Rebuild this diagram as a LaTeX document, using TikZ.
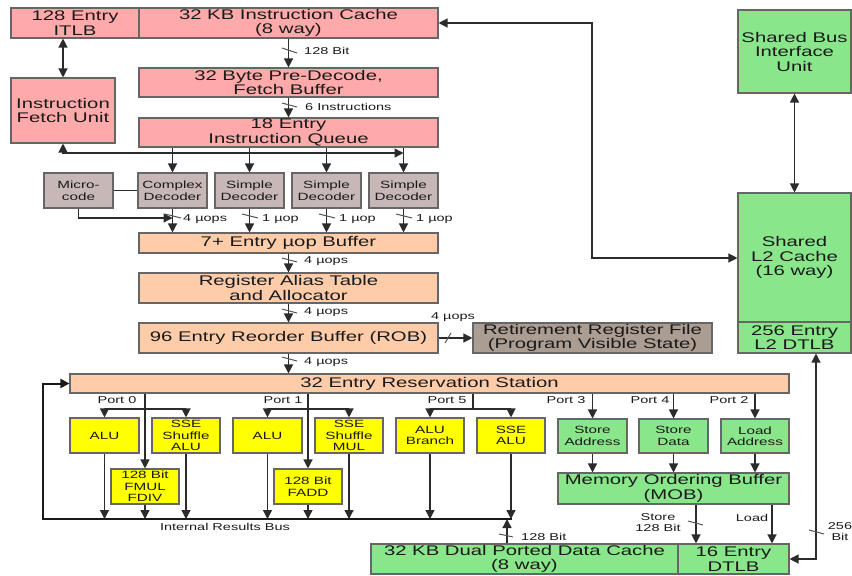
\documentclass[tikz,border=0pt]{standalone}
\usepackage{fontspec}
\setmainfont{Liberation Sans}[FakeStretch=1.45]
\usetikzlibrary{arrows.meta,calc}
\definecolor{cpink}{HTML}{FFAAAA}
\definecolor{cdec}{HTML}{C8B7B7}
\definecolor{corange}{HTML}{FFCCAA}
\definecolor{crrf}{HTML}{AC9D93}
\definecolor{cgreen}{HTML}{8AE68A}
\definecolor{cyellow}{HTML}{FFFF00}
\definecolor{cborder}{HTML}{666666}
\definecolor{cline}{HTML}{2B2B2B}
\definecolor{ctext}{HTML}{1A1A1A}
\begin{document}
\begin{tikzpicture}[x=1pt,y=-1pt,
  box/.style={draw=cborder, line width=1.1pt, inner sep=0pt, align=center, text=ctext,
              font=\fontsize{14}{14.5}\selectfont},
  smallbox/.style={box, font=\fontsize{10.5}{11.5}\selectfont},
  bx/.style n args={2}{minimum width=#1pt, minimum height=#2pt},
  lbl/.style={inner sep=0pt, text=ctext, font=\fontsize{10}{11}\selectfont, align=center},
  arr/.style={-{Triangle[length=9pt,width=9pt]}, draw=cline, line width=1.3pt},
  arrtwo/.style={{Triangle[length=9pt,width=9pt]}-{Triangle[length=9pt,width=9pt]}, draw=cline, line width=1.3pt},
  plain/.style={draw=cline, line width=1.3pt},
  busline/.style={-{Triangle[length=9pt,width=9pt]}, draw=black!90, line width=2pt},
  slash/.style={draw=cline!80, line width=1pt}
]
\useasboundingbox (0,0) rectangle (852,576);

% ---------- front end ----------
\node[box, fill=cpink, bx={128}{30}] (itlb) at (75,23) {128 Entry\\ITLB};
\node[box, fill=cpink, bx={299}{30}] (icache) at (288.5,23) {32 KB Instruction Cache\\(8 way)};
\node[box, fill=cpink, bx={299}{29}] (predec) at (288.5,82.5) {32 Byte Pre-Decode,\\Fetch Buffer};
\node[box, fill=cpink, bx={104}{65}] (ifu) at (63,110.5) {Instruction\\Fetch Unit};
\node[box, fill=cpink, bx={299}{29}] (iq) at (288.5,132.5) {18 Entry\\Instruction Queue};

\node[smallbox, fill=cdec, bx={69}{35}] (micro) at (78.5,190.5) {Micro-\\code};
\node[smallbox, fill=cdec, bx={69}{35}] (cplx) at (172.5,190.5) {Complex\\Decoder};
\node[smallbox, fill=cdec, bx={69}{35}] (sa) at (249.5,190.5) {Simple\\Decoder};
\node[smallbox, fill=cdec, bx={69}{35}] (sb) at (326.5,190.5) {Simple\\Decoder};
\node[smallbox, fill=cdec, bx={69}{35}] (sc) at (403.5,190.5) {Simple\\Decoder};

\node[box, fill=corange, bx={299}{20}] (ubuf) at (288.5,243) {7+ Entry µop Buffer};
\node[box, fill=corange, bx={299}{30}] (rat) at (288.5,288) {Register Alias Table\\and Allocator};
\node[box, fill=corange, bx={299}{30}] (rob) at (288.5,338) {96 Entry Reorder Buffer (ROB)};
\node[box, fill=crrf, bx={239}{30}] (rrf) at (592.5,338) {Retirement Register File\\(Program Visible State)};

% ---------- L2 ----------
\node[box, fill=cgreen, bx={113}{83}] (sbiu) at (794.5,51.5) {Shared Bus\\Interface\\Unit};
\node[box, fill=cgreen, bx={113}{129}] (l2) at (794.5,257.5) {Shared\\L2 Cache\\(16 way)};
\node[box, fill=cgreen, bx={113}{31}] (l2d) at (794.5,337.5) {256 Entry\\L2 DTLB};

% ---------- back end ----------
\node[box, fill=corange, bx={719}{19}] (rs) at (429.5,383.5) {32 Entry Reservation Station};

\node[smallbox, fill=cyellow, bx={69}{35}] (alua) at (104.5,435.5) {ALU};
\node[smallbox, fill=cyellow, bx={68}{35}] (ssea) at (186,435.5) {SSE\\Shuffle\\ALU};
\node[smallbox, fill=cyellow, bx={68}{35}] (fmul) at (145,486.5) {128 Bit\\FMUL\\FDIV};
\node[smallbox, fill=cyellow, bx={69}{35}] (alub) at (267.5,435.5) {ALU};
\node[smallbox, fill=cyellow, bx={68}{35}] (sseb) at (349,435.5) {SSE\\Shuffle\\MUL};
\node[smallbox, fill=cyellow, bx={68}{35}] (fadd) at (308,486.5) {128 Bit\\FADD};
\node[smallbox, fill=cyellow, bx={68}{35}] (alubr) at (430,435.5) {ALU\\Branch};
\node[smallbox, fill=cyellow, bx={68}{35}] (ssec) at (511,435.5) {SSE\\ALU};

\node[smallbox, fill=cgreen, bx={69}{34}] (sta) at (592.5,436) {Store\\Address};
\node[smallbox, fill=cgreen, bx={69}{34}] (std) at (673.5,436) {Store\\Data};
\node[smallbox, fill=cgreen, bx={68}{34}] (lda) at (755,436) {Load\\Address};
\node[box, fill=cgreen, bx={231}{31}] (mob) at (673.5,488.5) {Memory Ordering Buffer\\(MOB)};

\node[box, fill=cgreen, bx={307}{30}] (dcache) at (524.5,559) {32 KB Dual Ported Data Cache\\(8 way)};
\node[box, fill=cgreen, bx={111}{30}] (dtlb) at (733.5,559) {16 Entry\\DTLB};

% ---------- coordinates ----------
\coordinate (ifuline) at (63,153);
\coordinate (mc) at (172.5,218);
\coordinate (cturn) at (592,258);
\coordinate (t256) at (816,559);
\coordinate (pz) at (145,409);
\coordinate (po) at (308,409);
\coordinate (pf) at (473,409);
\coordinate (bl) at (43,519);
\coordinate (br) at (512,519);
\coordinate (xdc) at (507,519);
\coordinate (xst) at (696,0);
\coordinate (xld) at (772,0);

% ---------- front-end connectors ----------
\draw[arrtwo] (ifu.north) -- (itlb.south -| ifu.north);
\draw[arr] (icache.south) -- (predec.north);
\draw[arr] (predec.south) -- (iq.north);
\draw[arrtwo] (ifu.south) -- (ifuline) -- (ifuline -| sc.north);
\foreach \d in {cplx,sa,sb,sc}
  \draw[arr] (\d.north |- iq.south) -- (\d.north);
\draw[plain] (micro.east) -- (cplx.west);
\draw[arr] (micro.south) |- (mc);
\foreach \d in {cplx,sa,sb,sc}
  \draw[arr] (\d.south) -- (\d.south |- ubuf.north);
\draw[arr] (ubuf.south) -- (rat.north);
\draw[arr] (rat.south) -- (rob.north);
\draw[arr] (rob.east) -- (rrf.west);
\draw[arr] (rob.south) -- (rob.south |- rs.north);

% ---------- L2 connectors ----------
\draw[arrtwo] (icache.east) -| (cturn) -- (cturn -| l2.west);
\draw[arrtwo] (sbiu.south) -- (l2.north);
\draw[arrtwo] (dtlb.east) -- (t256) -- (t256 |- l2d.south);

% ---------- ports ----------
\draw[arr] (fmul.north |- rs.south) -- (fmul.north);
\draw[arr] (pz) -| (alua.north);
\draw[arr] (pz) -| (ssea.north);
\draw[arr] (fadd.north |- rs.south) -- (fadd.north);
\draw[arr] (po) -| (alub.north);
\draw[arr] (po) -| (sseb.north);
\draw[plain] (pf |- rs.south) -- (pf);
\draw[arr] (pf) -| (alubr.north);
\draw[arr] (pf) -| (ssec.north);
\draw[arr] (sta.north |- rs.south) -- (sta.north);
\draw[arr] (std.north |- rs.south) -- (std.north);
\draw[arr] (lda.north |- rs.south) -- (lda.north);
\foreach \u in {sta,std,lda}
  \draw[arr] (\u.south) -- (\u.south |- mob.north);

% ---------- results bus ----------
\draw[busline] (br) -- (bl) |- (rs.west);
\foreach \u in {alua,fmul,ssea,alub,fadd,sseb,alubr,ssec}
  \draw[arr] (\u.south) -- (\u.south |- bl);
\draw[arr] (dcache.north -| xdc) -- (xdc);
\draw[arr] (mob.south -| xst) -- (dtlb.north -| xst);
\draw[arr] (mob.south -| xld) -- (dtlb.north -| xld);

% ---------- bus-width slashes ----------
\draw[slash] (282,48) -- (297,53);
\draw[slash] (282,103) -- (297,107);
\draw[slash] (165,214) -- (181,218);
\draw[slash] (242,214) -- (258,218);
\draw[slash] (319,214) -- (335,218);
\draw[slash] (396,214) -- (412,218);
\draw[slash] (282,258) -- (297,262);
\draw[slash] (282,309) -- (297,313);
\draw[slash] (282,357) -- (297,361);
\draw[slash] (445,343) -- (451,333);
\draw[slash] (499,534) -- (513,537);
\draw[slash] (688,521) -- (703,525);
\draw[slash] (809,530) -- (824,534);

% ---------- labels ----------
\node[lbl, anchor=west] (l1) at (304,51) {128 Bit};
\node[lbl, anchor=west] (l2l) at (305,107) {6 Instructions};
\node[lbl, anchor=west] (l3) at (183,219) {4 µops};
\node[lbl, anchor=west] (l4) at (262,219) {1 µop};
\node[lbl, anchor=west] (l5) at (339,219) {1 µop};
\node[lbl, anchor=west] (l6) at (416,219) {1 µop};
\node[lbl, anchor=west] (l7) at (304,261) {4 µops};
\node[lbl, anchor=west] (l8) at (304,312) {4 µops};
\node[lbl] (l9) at (453,317) {4 µops};
\node[lbl, anchor=west] (l10) at (304,362) {4 µops};
\node[lbl] (p0) at (117,400) {Port 0};
\node[lbl] (p1) at (283,400) {Port 1};
\node[lbl] (p5) at (447,400) {Port 5};
\node[lbl] (p3) at (566,400) {Port 3};
\node[lbl] (p4) at (650,400) {Port 4};
\node[lbl] (p2) at (729,400) {Port 2};
\node[lbl] (irb) at (225,527) {Internal Results Bus};
\node[lbl, anchor=west] (l128) at (521,537) {128 Bit};
\node[lbl] (lst) at (658,522.5) {Store\\128 Bit};
\node[lbl] (lld) at (752,518) {Load};
\node[lbl] (l256) at (840,531.5) {256\\Bit};
\end{tikzpicture}
\end{document}
